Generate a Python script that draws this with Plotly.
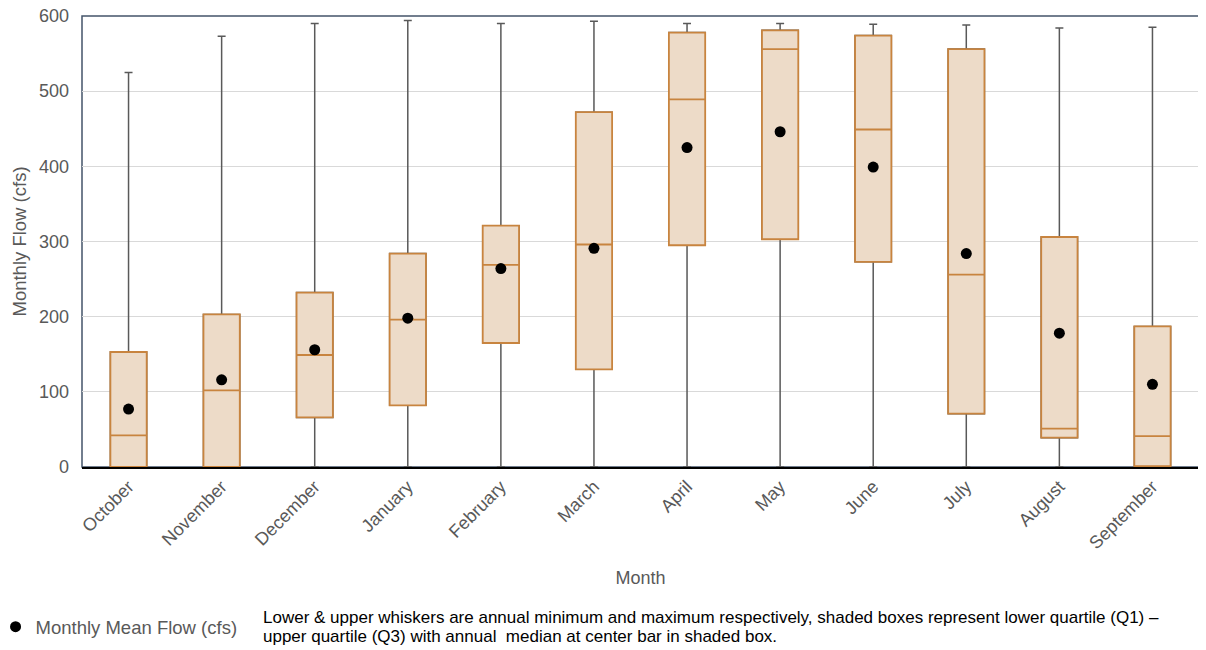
import plotly.graph_objects as go

months = ["October", "November", "December", "January", "February", "March",
          "April", "May", "June", "July", "August", "September"]
flow_min = [0, 0, 0, 0, 0, 0, 0, 0, 0, 0, 0, 0]
flow_q1 = [0, 0, 66, 82, 165, 130, 295, 303, 273, 71, 39, 1]
flow_median = [42, 102, 149, 196, 269, 296, 489, 556, 449, 256, 51, 41]
flow_q3 = [153, 203, 232, 284, 321, 472, 578, 581, 574, 556, 306, 187]
flow_max = [525, 573, 590, 594, 590, 593, 590, 590, 589, 588, 584, 585]
flow_mean = [77, 116, 156, 198, 264, 291, 425, 446, 399, 284, 178, 110]

note_lines = [
    "Lower & upper whiskers are annual minimum and maximum respectively, shaded boxes represent lower quartile (Q1) –",
    "upper quartile (Q3) with annual  median at center bar in shaded box.",
]

GRAY_TEXT = "#595959"
FONT = "Liberation Sans, Arial, sans-serif"

fig = go.Figure()

# whiskers (gray)
fig.add_trace(go.Box(
    x=months, q1=flow_q1, median=flow_median, q3=flow_q3,
    lowerfence=flow_min, upperfence=flow_max,
    width=0.39, whiskerwidth=0.22,
    line=dict(color="#595959", width=1.5),
    fillcolor="rgba(0,0,0,0)", showlegend=False, hoverinfo="skip",
))
# shaded boxes (orange)
fig.add_trace(go.Box(
    x=months, q1=flow_q1, median=flow_median, q3=flow_q3,
    lowerfence=flow_q1, upperfence=flow_q3,
    width=0.39, whiskerwidth=0,
    line=dict(color="#C8843F", width=1.8),
    fillcolor="#EDDBC8", showlegend=False,
))
# means
fig.add_trace(go.Scatter(
    x=months, y=flow_mean, mode="markers", name="Monthly Mean Flow (cfs)",
    marker=dict(color="black", size=11),
))

annotations = []
for line, yy in zip(note_lines, [-0.3348, -0.3769]):
    annotations.append(dict(
        xref="paper", yref="paper", x=0.1602, y=yy, xanchor="left", yanchor="middle",
        align="left", showarrow=False, text=line,
        font=dict(family=FONT, size=17, color="black"),
    ))

fig.update_layout(
    width=1198, height=642,
    margin=dict(l=74, r=7, t=8, b=183, autoexpand=False),
    paper_bgcolor="white", plot_bgcolor="white",
    boxmode="overlay",
    font=dict(family=FONT, color=GRAY_TEXT, size=18),
    showlegend=True,
    legend=dict(x=-0.0774, y=-0.313, xanchor="left", yanchor="top",
                orientation="h", itemwidth=30,
                font=dict(size=18.5, color=GRAY_TEXT),
                bgcolor="rgba(0,0,0,0)"),
    shapes=[dict(type="rect", xref="paper", yref="paper", x0=0, x1=1, y0=0, y1=1,
                 line=dict(color="#44546A", width=1.5), layer="below")],
    annotations=annotations,
)

fig.update_xaxes(
    type="category", range=[-0.5, 11.5], automargin=False,
    tickangle=-45, tickfont=dict(size=18, color=GRAY_TEXT),
    showline=True, linecolor="black", linewidth=2,
    showgrid=False, ticks="", ticklabeloverflow="allow",
    title=dict(text="Month", font=dict(size=18, color=GRAY_TEXT), standoff=19),
)
fig.update_yaxes(
    range=[0, 600], dtick=100, automargin=False,
    tickfont=dict(size=18, color=GRAY_TEXT), ticklabelstandoff=12,
    ticklabeloverflow="allow",
    showgrid=True, gridcolor="#D9D9D9", gridwidth=1,
    zeroline=False, showline=False, ticks="",
    title=dict(text="Monthly Flow (cfs)", font=dict(size=18.5, color=GRAY_TEXT), standoff=7),
)

fig.write_html("out.html")
